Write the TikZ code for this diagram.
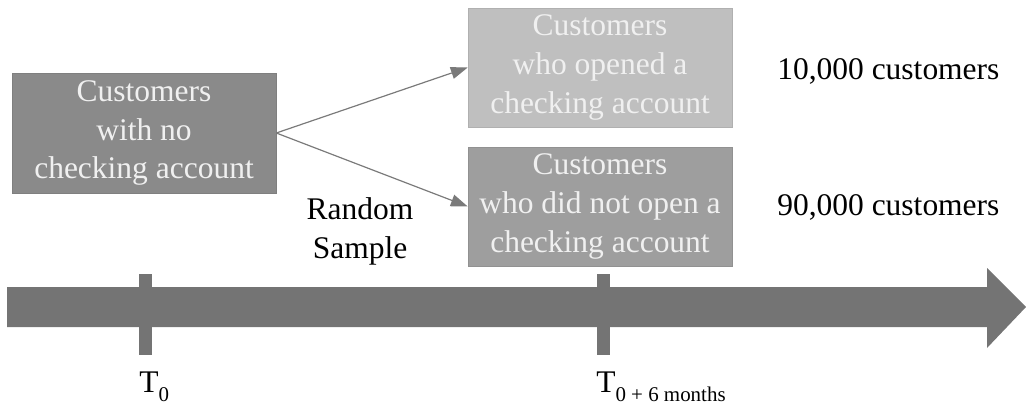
\documentclass[tikz,border=0pt]{standalone}
\usepackage{fontspec}
\setmainfont{Liberation Serif}
\usetikzlibrary{arrows.meta, positioning}
\definecolor{BoxDark}{HTML}{8A8A8A}
\definecolor{BoxLight}{HTML}{BFBFBF}
\definecolor{BoxMid}{HTML}{9E9E9E}
\definecolor{AxisGray}{HTML}{747474}
\definecolor{LinkGray}{HTML}{7A7A7A}
\newcommand{\bigtext}{\fontsize{22.4}{27.7}\selectfont}
\newcommand{\timesub}[1]{T\raisebox{-0.3em}{\fontsize{14.9}{15}\selectfont #1}}

\tikzset{
  cohort/.style={rectangle, fill=#1, draw=#1!92!black, line width=0.4pt,
    minimum width=66mm, minimum height=29.75mm, inner sep=0pt,
    align=center, font=\bigtext, text=white!94!black},
  link/.style={LinkGray, line width=0.85pt, -{Triangle[length=4.2mm, width=3mm]}},
  label/.style={font=\bigtext, inner sep=0pt}
}

\begin{document}
\begin{tikzpicture}[x=0.25mm, y=0.25mm]
        \useasboundingbox (0,0) rectangle (1026,408);
        % time axis with its two marks
        \fill[AxisGray] (7,121) -- (987,121) -- (987,140) -- (1026,101) -- (987,60) -- (987,81) -- (7,81) -- cycle;
        \foreach \t in {145.5, 603.5}
          \fill[AxisGray] (\t-6.5,53) rectangle (\t+6.5,134);
        \node[label, anchor=base west] (start) at (139,16) {\timesub{0}};
        \node[label, anchor=base west] (later) at (596,16) {\timesub{0 + 6 months}};
        % the three groups of customers
        \node[cohort=BoxDark, minimum height=30mm] (base) at (144,275) {Customers\\with no\\checking account};
        \node[cohort=BoxLight] (opened) at (600,340.5) {Customers\\who opened a\\checking account};
        \node[cohort=BoxMid] (notopened) at (600,201.5) {Customers\\who did not open a\\checking account};
        \draw[link] (base.east) -- (opened.west);
        \draw[link] (base.east) -- (notopened.west);
        \node[label, align=center] (sample) at (360,177) {Random\\Sample};
        \node[label, anchor=base west] (nopened) at (777,328) {10,000 customers};
        \node[label, anchor=base west] (nnot) at (777,193) {90,000 customers};
      \end{tikzpicture}
\end{document}
